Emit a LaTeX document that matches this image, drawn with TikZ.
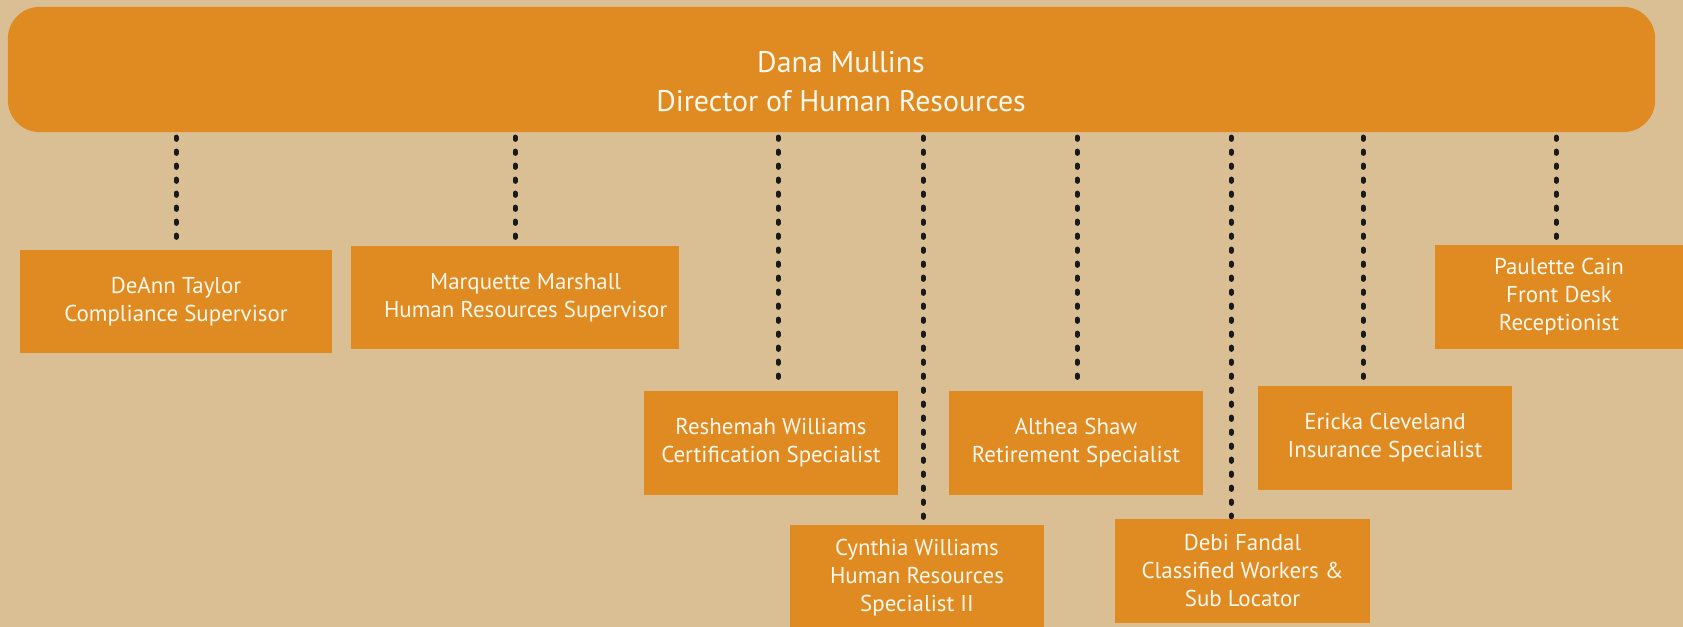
\documentclass[tikz,border=0pt]{standalone}
\usepackage{fontspec}
\setmainfont{PT Sans}
\definecolor{bg}{HTML}{DBBF94}
\definecolor{box}{HTML}{E08A22}
\definecolor{txt}{HTML}{FFF8EC}
\definecolor{dots}{HTML}{1A1A1A}
\begin{document}
\begin{tikzpicture}[x=0.75pt,y=-0.75pt,
  person/.style={fill=box,text=txt,align=center,inner sep=0pt,
    minimum height=77.5pt,font=\fontsize{17.2}{21}\selectfont},
  conn/.style={draw=dots,line width=3.75pt,line cap=round,
    dash pattern=on 1.7pt off 8.8pt,shorten <=3.5pt,shorten >=1.5pt}]
\fill[bg] (0,0) rectangle (1683,627);
\useasboundingbox (0,0) rectangle (1683,627);
\node[fill=box,rounded corners=24pt,inner sep=0pt,
  minimum width=1235.5pt,minimum height=94pt] (boss) at (831.5,69.5) {};
\node[text=txt,align=center,inner sep=0pt,
  font=\fontsize{22.4}{29}\selectfont] (bosstext) at (841,81.5)
  {Dana Mullins\\Director of Human Resources};
\node[person,minimum width=234pt] (deann) at (176,301.5)
  {DeAnn Taylor\\Compliance Supervisor};
\node[person,minimum width=246pt] (marq) at (515,297.5)
  {\hspace*{16pt}Marquette Marshall\\\hspace*{16pt}Human Resources Supervisor};
\node[person,minimum width=190.5pt] (resh) at (771,443)
  {Reshemah Williams\\Certification Specialist};
\node[person,minimum width=190.5pt,minimum height=79pt] (cyn) at (917,577.5)
  {Cynthia Williams\\Human Resources\\Specialist II};
\node[person,minimum width=190.5pt] (alth) at (1076,443)
  {Althea Shaw\\Retirement Specialist};
\node[person,minimum width=191pt,minimum height=78pt] (debi) at (1242.5,571)
  {Debi Fandal\\Classified Workers \&\\Sub Locator};
\node[person,minimum width=190.5pt] (eric) at (1385,438)
  {Ericka Cleveland\\Insurance Specialist};
\node[person,minimum width=186pt] (paul) at (1559,297)
  {Paulette Cain\\Front Desk\\Receptionist};
\coordinate (t1) at (deann.north);
\coordinate (t2) at ([yshift=4.5pt]marq.north);
\coordinate (t3) at ([xshift=5.25pt,yshift=6.5pt]resh.north);
\coordinate (t4) at ([xshift=4.5pt]cyn.north);
\coordinate (t5) at ([xshift=0.75pt,yshift=6pt]alth.north);
\coordinate (t6) at ([xshift=-8.6pt]debi.north);
\coordinate (t7) at ([xshift=-16.5pt,yshift=2.5pt]eric.north);
\coordinate (t8) at ([xshift=-2.25pt]paul.north);
\foreach \t in {t1,t2,t3,t4,t5,t6,t7,t8}
  \draw[conn] (\t |- boss.south) -- (\t);
\end{tikzpicture}
\end{document}
